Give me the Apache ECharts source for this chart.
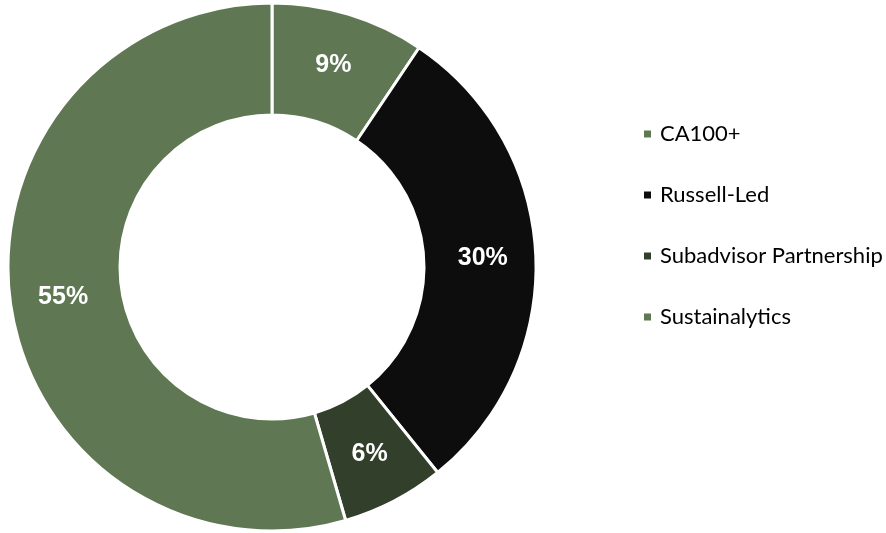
<!DOCTYPE html>
<html>
<head>
<meta charset="utf-8">
<script src="https://cdn.jsdelivr.net/npm/echarts@6/dist/echarts.min.js"></script>
<style>html,body{margin:0;padding:0;background:#fff;}#c{width:886px;height:533px;}</style>
</head>
<body>
<div id="c"></div>
<script>
const categories = ['CA100+', 'Russell-Led', 'Subadvisor Partnership', 'Sustainalytics'];
const values = [9.4, 29.8, 6.3, 54.5];
const colors = ['#5F7752', '#0D0D0D', '#323F2A', '#5F7752'];

const chart = echarts.init(document.getElementById('c'), null, {renderer: 'canvas'});
chart.setOption({
  animation: false,
  color: colors,
  legend: {
    orient: 'vertical',
    left: 642,
    top: 123,
    padding: 0,
    itemWidth: 9,
    itemHeight: 9,
    itemGap: 39,
    icon: 'rect',
    data: categories,
    textStyle: {fontFamily: 'Lato', fontSize: 22, lineHeight: 22, color: '#000', padding: [0, 0, 0, 3]}
  },
  series: [{
    type: 'pie',
    center: [272, 267],
    radius: [152, 264],
    startAngle: 90,
    clockwise: true,
    avoidLabelOverlap: false,
    itemStyle: {borderColor: '#fff', borderWidth: 3},
    label: {
      show: true,
      position: 'inside',
      color: '#fff',
      fontFamily: 'Liberation Sans',
      fontWeight: 'bold',
      fontSize: 25,
      formatter: p => Math.round(p.value) + '%'
    },
    labelLine: {show: false},
    emphasis: {disabled: true},
    data: categories.map((c, i) => ({name: c, value: values[i]}))
  }]
});
</script>
</body>
</html>
